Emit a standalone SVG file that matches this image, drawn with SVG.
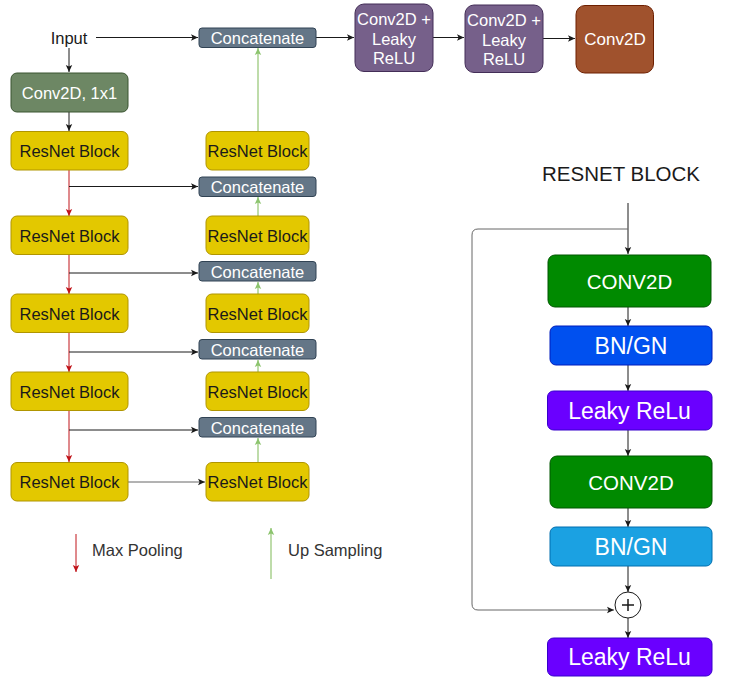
<svg xmlns="http://www.w3.org/2000/svg" width="734" height="677" viewBox="0 0 734 677">
  <defs>
    <style>
      text { font-family: "Liberation Sans", Arial, sans-serif; text-anchor: middle; dominant-baseline: central; }
      .lbl { font-size: 16.5px; fill: #1a1a1a; }
      .wt { font-size: 16.5px; fill: #ffffff; }
      .big { font-size: 20.5px; fill: #ffffff; }
      .big2 { font-size: 23px; fill: #ffffff; }
      .res { fill: #e3c800; stroke: #b09500; stroke-width: 1; }
      .cat { fill: #647687; stroke: #314354; stroke-width: 1; }
      .pur { fill: #76608a; stroke: #432d57; stroke-width: 1; }
      .blk { stroke: #1a1a1a; stroke-width: 1; fill: none; }
      .gry { stroke: #666666; stroke-width: 1; fill: none; }
      .red { stroke: #c0141a; stroke-width: 1; fill: none; }
      .grn { stroke: #a9d18e; stroke-width: 1.5; fill: none; }
    </style>
    <marker id="ab" markerUnits="userSpaceOnUse" markerWidth="8" markerHeight="8" viewBox="0 0 8 8" refX="7" refY="4" orient="auto">
      <path d="M0,0.8 L7,4 L0,7.2 L1.6,4 Z" fill="#1a1a1a"/>
    </marker>
    <marker id="ar" markerUnits="userSpaceOnUse" markerWidth="8" markerHeight="8" viewBox="0 0 8 8" refX="7" refY="4" orient="auto">
      <path d="M0,0.8 L7,4 L0,7.2 L1.6,4 Z" fill="#c0141a"/>
    </marker>
    <marker id="ag" markerUnits="userSpaceOnUse" markerWidth="8" markerHeight="8" viewBox="0 0 8 8" refX="7" refY="4" orient="auto">
      <path d="M0,0.8 L7,4 L0,7.2 L1.6,4 Z" fill="#8cc46e"/>
    </marker>
  </defs>

  <rect width="734" height="677" fill="#ffffff"/>

  <!-- connectors -->
  <g id="connectors">
    <!-- encoder spine -->
    <line class="blk" x1="69" y1="48" x2="69" y2="72" marker-end="url(#ab)"/>
    <line class="blk" x1="69" y1="112" x2="69" y2="131" marker-end="url(#ab)"/>
    <line class="red" x1="69" y1="170" x2="69" y2="216" marker-end="url(#ar)"/>
    <line class="red" x1="69" y1="254" x2="69" y2="294" marker-end="url(#ar)"/>
    <line class="red" x1="69" y1="332" x2="69" y2="372" marker-end="url(#ar)"/>
    <line class="red" x1="69" y1="410" x2="69" y2="462" marker-end="url(#ar)"/>
    <!-- skip links -->
    <line class="blk" x1="96" y1="37.5" x2="198" y2="37.5" marker-end="url(#ab)"/>
    <line class="blk" x1="69" y1="186.5" x2="198" y2="186.5" marker-end="url(#ab)"/>
    <line class="blk" x1="69" y1="273" x2="198" y2="273" marker-end="url(#ab)"/>
    <line class="blk" x1="69" y1="352" x2="198" y2="352" marker-end="url(#ab)"/>
    <line class="blk" x1="69" y1="430" x2="198" y2="430" marker-end="url(#ab)"/>
    <line class="gry" x1="128" y1="482" x2="205" y2="482" marker-end="url(#ab)"/>
    <!-- decoder up sampling -->
    <line class="grn" x1="258" y1="131" x2="258" y2="48" marker-end="url(#ag)"/>
    <line class="grn" x1="258" y1="216" x2="258" y2="197" marker-end="url(#ag)"/>
    <line class="grn" x1="258" y1="294" x2="258" y2="282" marker-end="url(#ag)"/>
    <line class="grn" x1="258" y1="372" x2="258" y2="360" marker-end="url(#ag)"/>
    <line class="grn" x1="258" y1="462" x2="258" y2="438" marker-end="url(#ag)"/>
    <!-- head -->
    <line class="blk" x1="316" y1="37.5" x2="354" y2="37.5" marker-end="url(#ab)"/>
    <line class="blk" x1="433" y1="37.5" x2="464" y2="37.5" marker-end="url(#ab)"/>
    <line class="blk" x1="543" y1="38.5" x2="575" y2="38.5" marker-end="url(#ab)"/>
    <!-- legend -->
    <line class="red" x1="76" y1="534" x2="76" y2="572" marker-end="url(#ar)"/>
    <line class="grn" x1="271" y1="579" x2="271" y2="528" marker-end="url(#ag)"/>
    <!-- resnet block detail -->
    <line class="blk" x1="628" y1="203" x2="628" y2="254" marker-end="url(#ab)"/>
    <path class="gry" d="M628,229 H478 Q472,229 472,235 V604 Q472,610 478,610 H614" marker-end="url(#ab)"/>
    <line class="blk" x1="628" y1="307" x2="628" y2="326" marker-end="url(#ab)"/>
    <line class="blk" x1="628" y1="365" x2="628" y2="391" marker-end="url(#ab)"/>
    <line class="blk" x1="628" y1="430" x2="628" y2="456" marker-end="url(#ab)"/>
    <line class="blk" x1="628" y1="508" x2="628" y2="527" marker-end="url(#ab)"/>
    <line class="blk" x1="628" y1="566" x2="628" y2="592" marker-end="url(#ab)"/>
    <line class="blk" x1="628" y1="618" x2="628" y2="638" marker-end="url(#ab)"/>
  </g>

  <!-- encoder -->
  <g id="input"><text class="lbl" x="69" y="38">Input</text></g>
  <g id="conv1x1">
    <rect x="11" y="73" width="117" height="39" rx="6" fill="#6d8764" stroke="#3a5431"/>
    <text class="wt" x="69.5" y="92.5">Conv2D, 1x1</text>
  </g>
  <g id="enc1"><rect class="res" x="11" y="131.5" width="117" height="38.5" rx="6"/><text class="lbl" x="69.5" y="151">ResNet Block</text></g>
  <g id="enc2"><rect class="res" x="11" y="216" width="117" height="38.5" rx="6"/><text class="lbl" x="69.5" y="235.5">ResNet Block</text></g>
  <g id="enc3"><rect class="res" x="11" y="294" width="117" height="38.5" rx="6"/><text class="lbl" x="69.5" y="313.5">ResNet Block</text></g>
  <g id="enc4"><rect class="res" x="11" y="372" width="117" height="38.5" rx="6"/><text class="lbl" x="69.5" y="391.5">ResNet Block</text></g>
  <g id="enc5"><rect class="res" x="11" y="462.5" width="117" height="38.5" rx="6"/><text class="lbl" x="69.5" y="482">ResNet Block</text></g>

  <!-- decoder -->
  <g id="dec1"><rect class="res" x="206" y="131.5" width="103" height="38.5" rx="6"/><text class="lbl" x="257.5" y="151">ResNet Block</text></g>
  <g id="dec2"><rect class="res" x="206" y="216" width="103" height="38.5" rx="6"/><text class="lbl" x="257.5" y="235.5">ResNet Block</text></g>
  <g id="dec3"><rect class="res" x="206" y="294" width="103" height="38.5" rx="6"/><text class="lbl" x="257.5" y="313.5">ResNet Block</text></g>
  <g id="dec4"><rect class="res" x="206" y="372" width="103" height="38.5" rx="6"/><text class="lbl" x="257.5" y="391.5">ResNet Block</text></g>
  <g id="dec5"><rect class="res" x="206" y="462.5" width="103" height="38.5" rx="6"/><text class="lbl" x="257.5" y="482">ResNet Block</text></g>

  <g id="cat1"><rect class="cat" x="199" y="28" width="117" height="19.5" rx="3"/><text class="wt" x="257.5" y="38">Concatenate</text></g>
  <g id="cat2"><rect class="cat" x="199" y="177" width="117" height="19.5" rx="3"/><text class="wt" x="257.5" y="187">Concatenate</text></g>
  <g id="cat3"><rect class="cat" x="199" y="261.5" width="117" height="19.5" rx="3"/><text class="wt" x="257.5" y="271.5">Concatenate</text></g>
  <g id="cat4"><rect class="cat" x="199" y="339.5" width="117" height="19.5" rx="3"/><text class="wt" x="257.5" y="349.5">Concatenate</text></g>
  <g id="cat5"><rect class="cat" x="199" y="417.5" width="117" height="19.5" rx="3"/><text class="wt" x="257.5" y="427.5">Concatenate</text></g>

  <!-- output head -->
  <g id="head1">
    <rect class="pur" x="355" y="4" width="78" height="67.5" rx="9"/>
    <text class="wt" x="394" y="18.5">Conv2D +</text>
    <text class="wt" x="394" y="38.5">Leaky</text>
    <text class="wt" x="394" y="58">ReLU</text>
  </g>
  <g id="head2">
    <rect class="pur" x="465" y="5" width="78" height="67.5" rx="9"/>
    <text class="wt" x="504" y="19.5">Conv2D +</text>
    <text class="wt" x="504" y="39.5">Leaky</text>
    <text class="wt" x="504" y="59">ReLU</text>
  </g>
  <g id="head3">
    <rect x="576" y="5.5" width="77.5" height="67.5" rx="9" fill="#a0522d" stroke="#6d1f00"/>
    <text class="wt" x="615" y="39.5" style="font-size:17px">Conv2D</text>
  </g>

  <!-- legend -->
  <g id="legend-pool"><text class="lbl" x="92" y="550" style="text-anchor:start;fill:#333333">Max Pooling</text></g>
  <g id="legend-up"><text class="lbl" x="288" y="550" style="text-anchor:start;fill:#333333">Up Sampling</text></g>

  <!-- resnet block detail -->
  <g id="rb-title"><text x="621" y="173" style="font-size:20.5px;fill:#1a1a1a">RESNET BLOCK</text></g>
  <g id="rb-conv1">
    <rect x="548" y="255" width="163" height="52" rx="7" fill="#008a00" stroke="#005700"/>
    <text class="big" x="629.5" y="281">CONV2D</text>
  </g>
  <g id="rb-bn1">
    <rect x="550" y="326" width="162" height="39" rx="6" fill="#0050ef" stroke="#001dbc"/>
    <text class="big2" x="631" y="345.5">BN/GN</text>
  </g>
  <g id="rb-act1">
    <rect x="547.5" y="391" width="164.5" height="39" rx="6" fill="#6a00ff" stroke="#3700cc"/>
    <text class="big2" x="629.5" y="410.5">Leaky ReLu</text>
  </g>
  <g id="rb-conv2">
    <rect x="550" y="456" width="162" height="52" rx="7" fill="#008a00" stroke="#005700"/>
    <text class="big" x="631" y="482">CONV2D</text>
  </g>
  <g id="rb-bn2">
    <rect x="550" y="527" width="162" height="39" rx="6" fill="#1ba1e2" stroke="#006eaf"/>
    <text class="big2" x="631" y="546.5">BN/GN</text>
  </g>
  <g id="rb-add">
    <circle cx="628" cy="605" r="13" fill="#ffffff" stroke="#1a1a1a"/>
    <path d="M622,605 H634 M628,599 V611" stroke="#1a1a1a" stroke-width="1.5"/>
  </g>
  <g id="rb-act2">
    <rect x="547.5" y="638" width="164.5" height="38" rx="6" fill="#6a00ff" stroke="#3700cc"/>
    <text class="big2" x="629.5" y="657">Leaky ReLu</text>
  </g>
</svg>
